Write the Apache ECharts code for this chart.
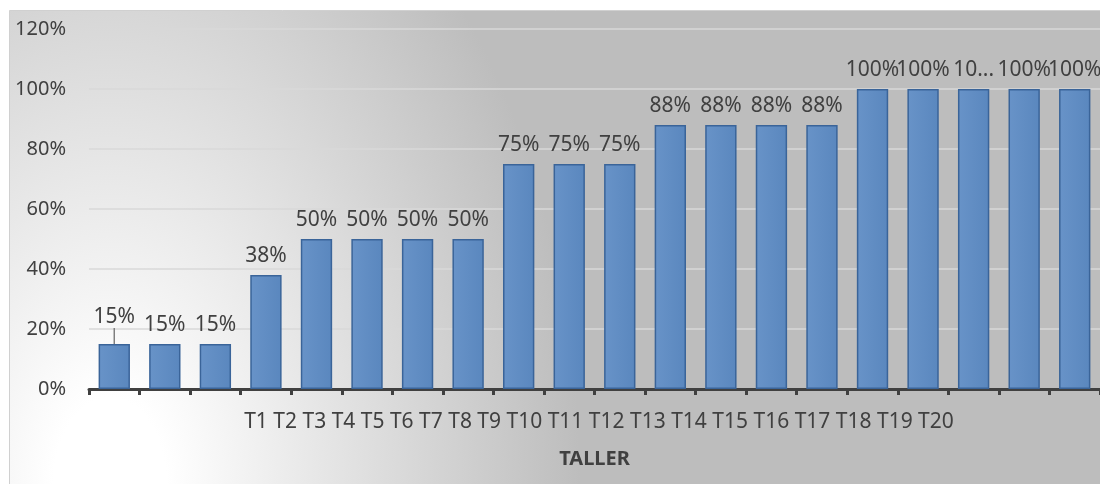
<!DOCTYPE html>
<html>
<head>
<meta charset="utf-8">
<script src="https://cdn.jsdelivr.net/npm/echarts@6/dist/echarts.min.js"></script>
<style>
html,body{margin:0;padding:0;background:#fff;}
#chart{width:1100px;height:484px;}
</style>
</head>
<body>
<div id="chart"></div>
<script>
// ---- data ----
var categories = ['T1','T2','T3','T4','T5','T6','T7','T8','T9','T10','T11','T12','T13','T14','T15','T16','T17','T18','T19','T20'];
var values = [15,15,15,38,50,50,50,50,75,75,75,88,88,88,88,100,100,100,100,100];
var yTicks = [0,20,40,60,80,100,120];
var axisTitle = 'TALLER';
var truncatedLabelIndex = 17; // label shown truncated as "10..." in the original
var leaderLabelIndex = 0;     // label lifted with a leader line in the original

var FONT = '"Noto Sans", "Liberation Sans", sans-serif';
var chart = echarts.init(document.getElementById('chart'), null, {renderer:'canvas'});

var barData = values.map(function(v, i){
  var item = {value: v};
  if (i === truncatedLabelIndex) {
    item.label = {formatter: function(){ return '10...'; }};
  }
  if (i === leaderLabelIndex) {
    item.labelLine = {show: true, lineStyle: {color: '#7f7f7f', width: 1.5}};
  }
  return item;
});

// elliptical radial background (scaled vertically)
var SY = 1.53;
var option = {
  backgroundColor: '#ffffff',
  animation: false,
  graphic: [
    {
      type: 'rect',
      z: -100,
      scaleX: 1, scaleY: SY,
      shape: {x: 9.5, y: 10.5 / SY, width: 1095, height: (484 - 10.5) / SY},
      style: {
        fill: new echarts.graphic.RadialGradient(110, 484 / SY, 470, [
          {offset: 0, color: '#ffffff'},
          {offset: 0.12, color: '#ffffff'},
          {offset: 1, color: '#bdbdbd'}
        ], true),
        stroke: null
      }
    },
    {
      type: 'rect',
      z: -99,
      shape: {x: 9.5, y: 10.5, width: 1095, height: 480},
      style: {fill: null, stroke: '#d0d0d0', lineWidth: 1}
    },
    {
      type: 'text',
      x: 599, y: 422,
      style: {
        text: categories.join(' '),
        align: 'center',
        verticalAlign: 'middle',
        font: '21px ' + FONT,
        fill: '#404040'
      }
    }
  ],
  grid: {left: 89, right: 0, top: 29, bottom: 95, containLabel: false},
  xAxis: {
    type: 'category',
    data: categories,
    name: axisTitle,
    nameLocation: 'middle',
    nameGap: 60,
    nameTextStyle: {fontFamily: FONT, fontSize: 20, fontWeight: 'bold', color: '#404040'},
    axisLine: {lineStyle: {color: '#404040', width: 3}},
    axisTick: {show: true, length: 6, lineStyle: {color: '#404040', width: 3}},
    axisLabel: {show: false},
    splitLine: {show: false}
  },
  yAxis: {
    type: 'value',
    min: yTicks[0],
    max: yTicks[yTicks.length-1],
    interval: yTicks[1]-yTicks[0],
    axisLine: {show: false},
    axisTick: {show: false},
    axisLabel: {
      formatter: '{value}%',
      margin: 23,
      fontFamily: FONT,
      fontSize: 20,
      color: '#404040'
    },
    splitLine: {lineStyle: {color: '#d9d9d9', width: 1.5}}
  },
  series: [{
    type: 'bar',
    data: barData,
    barCategoryGap: '38%',
    itemStyle: {
      color: new echarts.graphic.LinearGradient(0, 0, 1, 0, [
        {offset: 0, color: '#6893c8'},
        {offset: 1, color: '#5a87be'}
      ]),
      borderColor: '#3a6499',
      borderWidth: 1.5
    },
    label: {
      show: true,
      position: 'top',
      distance: 8,
      formatter: '{c}%',
      fontFamily: FONT,
      fontSize: 21,
      color: '#404040'
    },
    labelLayout: function(params){
      if (params.dataIndex === leaderLabelIndex) return {dy: -8};
      return {};
    },
    labelLine: {show: false}
  }]
};
chart.setOption(option);
</script>
</body>
</html>
